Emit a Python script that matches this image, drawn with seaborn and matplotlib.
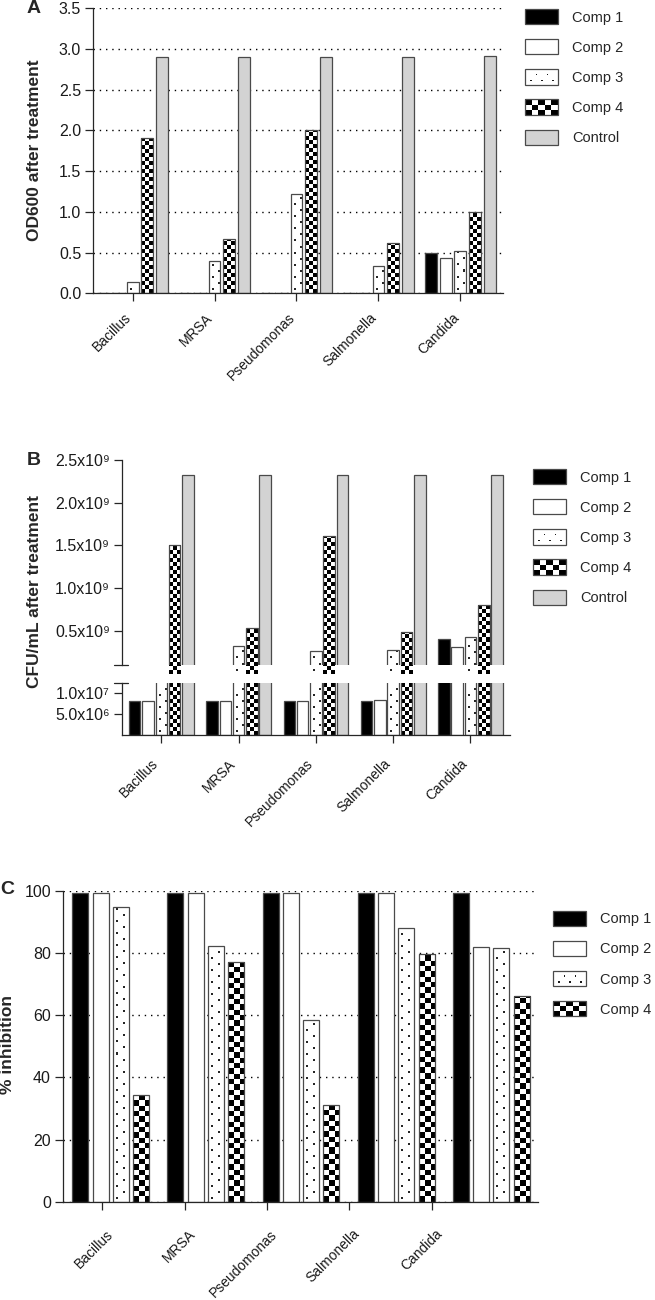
import numpy as np
import pandas as pd
import matplotlib
matplotlib.use("Agg")
import matplotlib.pyplot as plt
from matplotlib.patches import Rectangle
from matplotlib.legend_handler import HandlerBase
from matplotlib.transforms import ScaledTranslation
import seaborn as sns

# ---- data ----
organisms = ["Bacillus", "MRSA", "Pseudomonas", "Salmonella", "Candida"]

# A: OD600 after treatment
od_comp1 = [0.0, 0.0, 0.0, 0.0, 0.50]
od_comp2 = [0.0, 0.0, 0.0, 0.0, 0.43]
od_comp3 = [0.14, 0.40, 1.22, 0.34, 0.52]
od_comp4 = [1.91, 0.67, 2.00, 0.62, 1.00]
od_control = [2.90, 2.90, 2.90, 2.90, 2.91]

# B: CFU/mL after treatment
cfu_comp1 = [8.0e6, 8.0e6, 8.0e6, 8.0e6, 0.41e9]
cfu_comp2 = [8.2e6, 8.2e6, 8.2e6, 8.3e6, 0.31e9]
cfu_comp3 = [5.0e7, 0.32e9, 0.26e9, 0.27e9, 0.43e9]
cfu_comp4 = [1.51e9, 0.53e9, 1.61e9, 0.49e9, 0.80e9]
cfu_control = [2.33e9, 2.33e9, 2.33e9, 2.33e9, 2.33e9]

# C: % inhibition
inh_comp1 = [99.4, 99.4, 99.4, 99.4, 99.4]
inh_comp2 = [99.2, 99.2, 99.2, 99.2, 81.8]
inh_comp3 = [94.9, 82.2, 58.4, 87.9, 81.5]
inh_comp4 = [34.3, 77.0, 31.2, 79.7, 66.2]

comp_names = ["Comp 1", "Comp 2", "Comp 3", "Comp 4"]
fills = {"Comp 1": "black", "Comp 2": "white", "Comp 3": "white",
         "Comp 4": "white", "Control": "#d3d3d3"}

EDGE = "#4a4a4a"
AXIS = "#262626"
W, H = 655, 1300

sns.set_theme(style="ticks")
plt.rcParams["font.family"] = ["Liberation Sans", "DejaVu Sans"]


def long_frame(series):
    rows = []
    for name, vals in series.items():
        for org, v in zip(organisms, vals):
            rows.append((org, name, v))
    return pd.DataFrame(rows, columns=["organism", "treatment", "value"])


def fig_rect(left, top, right, bottom):
    # pixel box -> figure fraction
    return [left / W, 1 - bottom / H, (right - left) / W, (bottom - top) / H]


def draw_bars(ax, df, order, width, gap):
    sns.barplot(data=df, x="organism", y="value", hue="treatment",
                hue_order=order, palette=fills, width=width, gap=gap,
                errorbar=None, edgecolor=EDGE, linewidth=0.9,
                saturation=1, legend=False, ax=ax)
    ax.set_xlabel("")
    ax.set_ylabel("")


def pattern_board(kind, pw, ph):
    if kind == "checker":
        cell = pw / 3
        rows = np.floor(np.arange(ph) / cell).astype(int)
        cols = np.floor(np.arange(pw) / cell).astype(int)
        return ((rows[:, None] + cols[None, :]) % 2).astype(float)
    board = np.ones((ph, pw))
    for r, y in enumerate(range(3, ph - 1, 6)):
        for x in range(3 + (r % 2) * 6, pw - 1, 12):
            board[y:y + 2, x:x + 2] = 0.15
    return board


def fill_pattern(ax, bars, kind):
    y_hi = ax.get_ylim()[1]
    for bar in bars:
        bar.set_facecolor("none")
        x0, y0 = bar.get_x(), bar.get_y()
        w, h = bar.get_width(), bar.get_height()
        y1 = min(y0 + h, y_hi)
        if y1 <= y0:
            continue
        (px0, py0), (px1, py1) = ax.transData.transform([(x0, y0), (x0 + w, y1)])
        pw = max(1, int(round(px1 - px0)))
        ph = max(1, int(round(py1 - py0)))
        board = pattern_board(kind, pw, ph)
        im = ax.imshow(board, cmap="gray", vmin=0, vmax=1, origin="lower",
                       interpolation="nearest", extent=(x0, x0 + w, y0, y1),
                       aspect="auto", zorder=bar.get_zorder() - 0.05)
        im.set_clip_path(bar)


def style_patterns(ax):
    fill_pattern(ax, ax.containers[2], "dots")
    fill_pattern(ax, ax.containers[3], "checker")


def style_axis(ax):
    sns.despine(ax=ax)
    for s in ["left", "bottom"]:
        ax.spines[s].set_color(AXIS)
        ax.spines[s].set_linewidth(0.9)
    ax.tick_params(axis="both", colors=AXIS, labelcolor="#1a1a1a", width=0.9,
                   length=5.5, labelsize=11.5, direction="out")
    ax.tick_params(axis="y", pad=3)


def set_xlabels(ax, positions, pad, dx):
    ax.set_xticks(positions)
    ax.set_xticklabels(organisms, rotation=45, ha="right", va="center",
                       rotation_mode="anchor", fontsize=10)
    ax.tick_params(axis="x", pad=pad)
    off = ScaledTranslation(dx / 100, 0, ax.figure.dpi_scale_trans)
    for lab in ax.get_xticklabels():
        lab.set_transform(lab.get_transform() + off)


def dotted_grid(ax):
    ax.set_axisbelow(True)
    ax.yaxis.grid(True, linestyle=(0, (1, 3.5)), color="black", linewidth=1.0)


class CheckerHandler(HandlerBase):
    def create_artists(self, legend, orig_handle, xdescent, ydescent,
                       width, height, fontsize, trans):
        arts = []
        cw, ch = width / 5, height / 3
        for i in range(3):
            for j in range(5):
                if (i + j) % 2 == 0:
                    arts.append(Rectangle((-xdescent + j * cw, -ydescent + i * ch),
                                          cw, ch, facecolor="black",
                                          edgecolor="none", transform=trans))
        arts.append(Rectangle((-xdescent, -ydescent), width, height,
                              facecolor="none", edgecolor=EDGE, lw=0.9,
                              transform=trans))
        return arts


class DotHandler(HandlerBase):
    def create_artists(self, legend, orig_handle, xdescent, ydescent,
                       width, height, fontsize, trans):
        arts = [Rectangle((-xdescent, -ydescent), width, height,
                          facecolor="white", edgecolor=EDGE, lw=0.9,
                          transform=trans)]
        d = width * 1.6 / 33
        spots = [(6, 5), (17, 5), (28, 5), (11.5, 12), (22.5, 12)]
        for sx, sy in spots:
            arts.append(Rectangle((-xdescent + width * sx / 33 - d / 2,
                                   -ydescent + height * sy / 18 - d / 2),
                                  d, d, facecolor="#1a1a1a", edgecolor="none",
                                  transform=trans))
        return arts


def add_legend(fig, names, x, y):
    handles = []
    hmap = {}
    for n in names:
        r = Rectangle((0, 0), 1, 1, facecolor=fills[n], edgecolor=EDGE, lw=0.9)
        if n == "Comp 4":
            hmap[r] = CheckerHandler()
        if n == "Comp 3":
            hmap[r] = DotHandler()
        handles.append(r)
    fs = 10.5
    px = fs * 100 / 72
    fig.legend(handles, names, handler_map=hmap, loc="upper left",
               bbox_to_anchor=(x / W, 1 - y / H), bbox_transform=fig.transFigure,
               frameon=False, borderpad=0, borderaxespad=0, fontsize=fs,
               handlelength=33 / px, handleheight=18 / px,
               handletextpad=14 / px, labelspacing=14.6 / px)


fig = plt.figure(figsize=(6.55, 13.0), dpi=100)

# ---------------- panel A ----------------
ax_a = fig.add_axes(fig_rect(93, 8, 502.7, 293.3))
df_a = long_frame({"Comp 1": od_comp1, "Comp 2": od_comp2, "Comp 3": od_comp3,
                   "Comp 4": od_comp4, "Control": od_control})
draw_bars(ax_a, df_a, comp_names + ["Control"], width=0.89, gap=0.18)
ax_a.set_xlim(-0.482, 4.515)
ax_a.set_ylim(0, 3.5)
ax_a.set_yticks(np.arange(0, 3.51, 0.5))
ax_a.set_yticklabels([f"{v:.1f}" for v in np.arange(0, 3.51, 0.5)])
style_axis(ax_a)
dotted_grid(ax_a)
set_xlabels(ax_a, range(5), pad=10.5, dx=-3.7)
style_patterns(ax_a)
fig.text(42 / W, 1 - 150 / H, "OD600 after treatment", rotation=90,
         ha="right", va="center", fontsize=12.5, fontweight="bold")
fig.text(27 / W, 1 - 0 / H, "A", ha="left", va="top", fontsize=14,
         fontweight="bold")
add_legend(fig, comp_names + ["Control"], 525, 9)

# ---------------- panel B (broken axis) ----------------
df_b = long_frame({"Comp 1": cfu_comp1, "Comp 2": cfu_comp2, "Comp 3": cfu_comp3,
                   "Comp 4": cfu_comp4, "Control": cfu_control})
ax_bu = fig.add_axes(fig_rect(121.7, 460, 510, 665))
ax_bl = fig.add_axes(fig_rect(121.7, 683, 510, 735))
for ax in (ax_bu, ax_bl):
    draw_bars(ax, df_b, comp_names + ["Control"], width=0.86, gap=0.134)
    ax.set_xlim(-0.512, 4.511)
    style_axis(ax)

ax_bu.set_ylim(0.1e9, 2.5e9)
up_ticks = [0.5e9, 1.0e9, 1.5e9, 2.0e9, 2.5e9]
ax_bu.set_yticks(up_ticks)
ax_bu.set_yticklabels([f"{t / 1e9:.1f}x10\u2079" for t in up_ticks])
ax_bu.spines["bottom"].set_visible(False)
ax_bu.tick_params(axis="x", bottom=False, labelbottom=False)

ax_bl.set_ylim(0, 1.24e7)
ax_bl.set_yticks([5.0e6, 1.0e7])
ax_bl.set_yticklabels(["5.0x10\u2076", "1.0x10\u2077"])
set_xlabels(ax_bl, range(5), pad=13.6, dx=-5.4)

# break marks
ax_bu.plot([-0.02, 0.016], [0, 0], transform=ax_bu.transAxes, color=AXIS,
           lw=0.9, clip_on=False)
ax_bl.plot([-0.02, 0.016], [1, 1], transform=ax_bl.transAxes, color=AXIS,
           lw=0.9, clip_on=False)

for ax in (ax_bu, ax_bl):
    style_patterns(ax)

fig.text(42 / W, 1 - 592 / H, "CFU/mL after treatment", rotation=90,
         ha="right", va="center", fontsize=12.5, fontweight="bold")
fig.text(27 / W, 1 - 452 / H, "B", ha="left", va="top", fontsize=14,
         fontweight="bold")
add_legend(fig, comp_names + ["Control"], 533, 469)

# ---------------- panel C ----------------
ax_c = fig.add_axes(fig_rect(62.7, 890.7, 538.3, 1202))
df_c = long_frame({"Comp 1": inh_comp1, "Comp 2": inh_comp2,
                   "Comp 3": inh_comp3, "Comp 4": inh_comp4})
draw_bars(ax_c, df_c, comp_names, width=0.854, gap=0.21)
ax_c.set_xlim(-0.506, 4.495)
ax_c.set_ylim(0, 100)
ax_c.set_yticks(np.arange(0, 101, 20))
style_axis(ax_c)
dotted_grid(ax_c)
# tick marks in the source sit a bit off the bar groups
set_xlabels(ax_c, np.arange(5) * 0.866 - 0.089, pad=16, dx=8.3)
style_patterns(ax_c)
fig.text(15 / W, 1 - 1045 / H, "% inhibition", rotation=90,
         ha="right", va="center", fontsize=12.5, fontweight="bold")
fig.text(0 / W, 1 - 881 / H, "C", ha="left", va="top", fontsize=14,
         fontweight="bold")
add_legend(fig, comp_names, 553, 910.7)

fig.savefig("out.png", dpi=100)
